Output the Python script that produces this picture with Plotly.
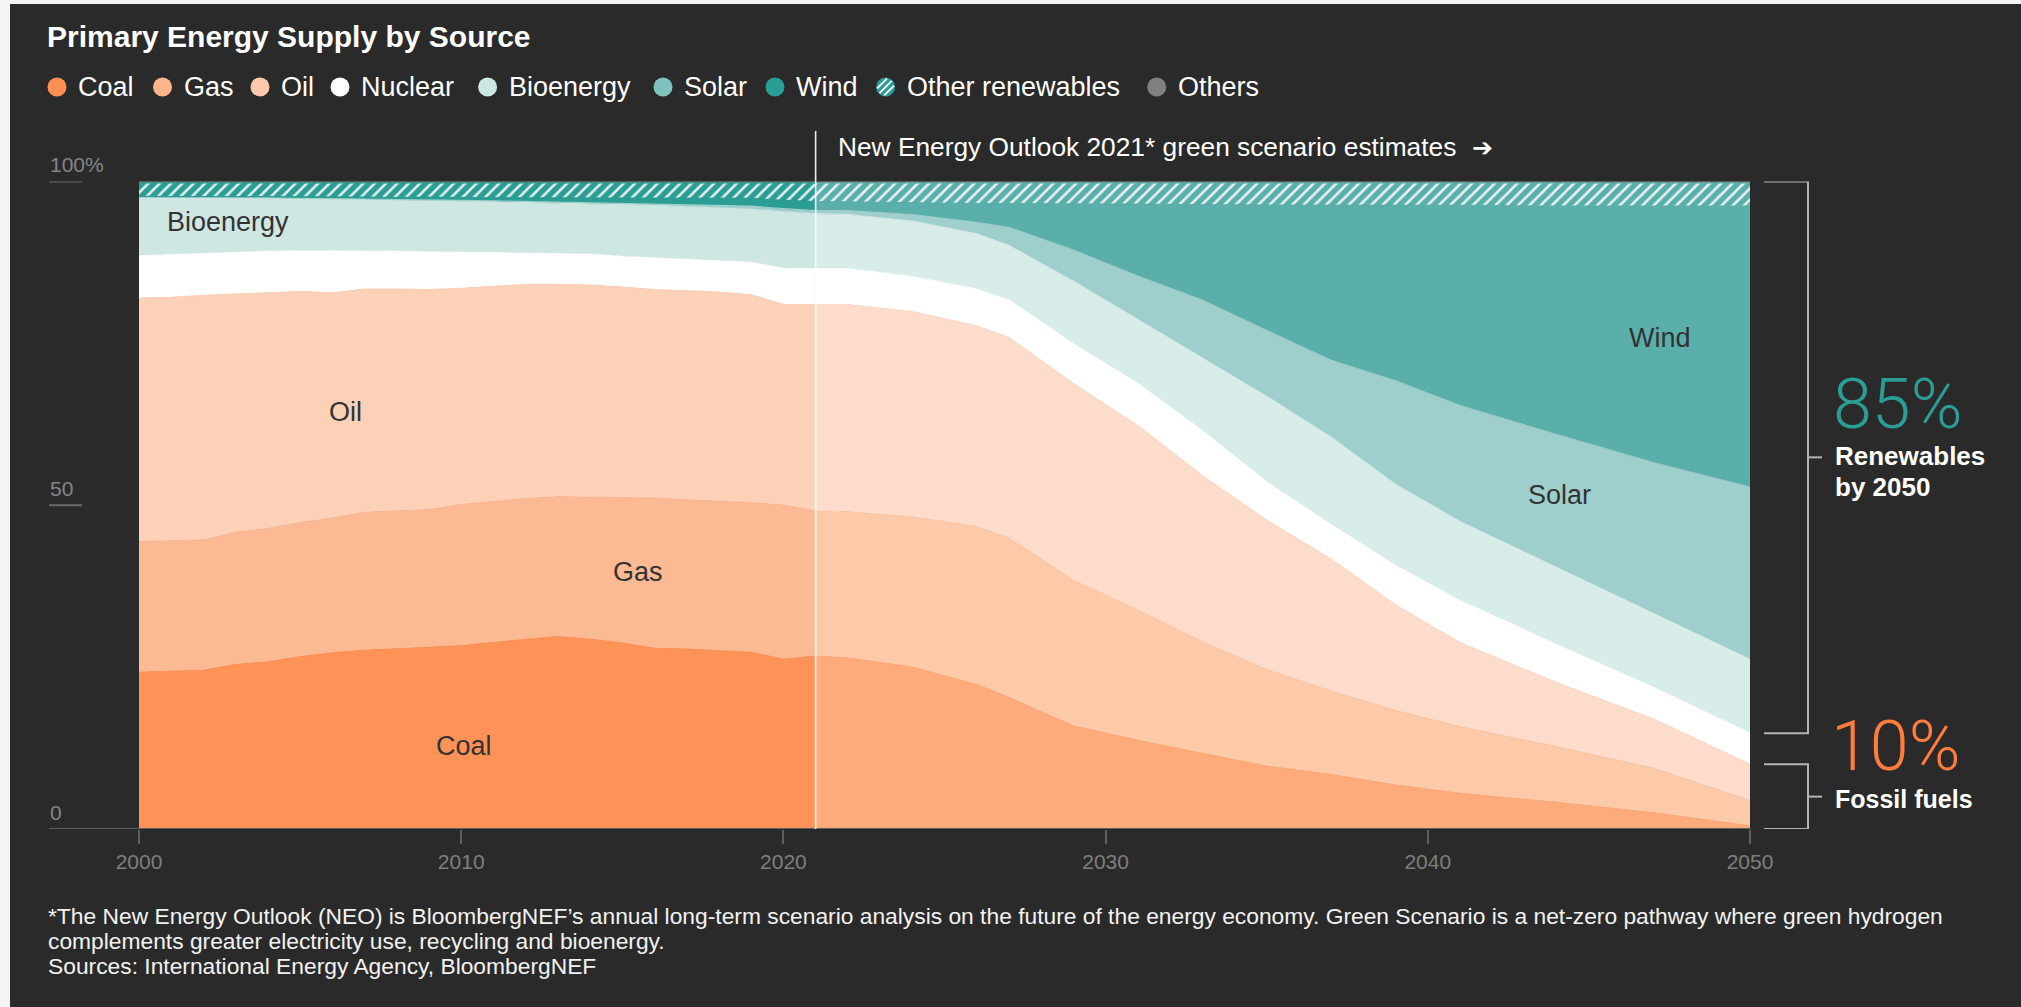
import plotly.graph_objects as go

# ---------------------------------------------------------------- data (share of primary energy, %)
years = [2000, 2001, 2002, 2003, 2004, 2005, 2006, 2007, 2008, 2009, 2010,
         2011, 2012, 2013, 2014, 2015, 2016, 2017, 2018, 2019, 2020, 2021,
         2022, 2024, 2026, 2027, 2029, 2031, 2033, 2035, 2037, 2039, 2041,
         2044, 2047, 2050]

coal = [24.2, 24.3, 24.5, 25.4, 25.8, 26.6, 27.2, 27.6, 27.8, 28.0, 28.3,
        28.8, 29.3, 29.7, 29.3, 28.7, 27.9, 27.8, 27.5, 27.3, 26.2, 26.7,
        26.4, 25.0, 22.3, 20.3, 15.9, 13.7, 11.7, 9.7, 8.4, 6.8, 5.5,
        4.1, 2.5, 0.5]
gas = [20.2, 20.2, 20.1, 20.4, 20.6, 20.7, 20.8, 21.3, 21.3, 21.3, 21.8,
       21.8, 21.7, 21.6, 21.9, 22.5, 23.2, 23.0, 23.1, 23.1, 23.8, 22.4,
       22.6, 23.2, 24.4, 24.6, 22.5, 20.1, 17.2, 14.9, 12.9, 11.5, 10.3,
       8.6, 6.9, 3.9]
oil = [37.6, 37.6, 37.8, 36.8, 36.3, 35.7, 34.8, 34.5, 34.3, 34.0, 33.4,
       33.2, 33.1, 32.8, 32.8, 32.5, 32.2, 32.3, 32.3, 32.1, 31.0, 31.9,
       32.0, 31.7, 31.0, 31.0, 30.4, 28.5, 25.7, 23.1, 20.4, 16.3, 13.0,
       9.9, 7.6, 5.6]
nuclear = [6.5, 6.6, 6.5, 6.4, 6.5, 6.3, 6.5, 5.9, 5.8, 5.8, 5.6,
           5.2, 4.8, 4.8, 4.8, 4.7, 4.9, 4.9, 4.8, 5.0, 5.6, 5.5,
           5.5, 5.4, 5.7, 5.8, 6.1, 6.5, 6.9, 5.9, 5.3, 6.1, 6.5,
           5.9, 4.9, 4.8]
bioenergy = [9.1, 8.9, 8.7, 8.6, 8.3, 8.1, 8.1, 8.0, 8.0, 8.0, 7.9,
             7.9, 7.9, 7.8, 7.8, 8.1, 8.1, 8.1, 8.2, 8.2, 8.7, 8.5,
             8.4, 8.6, 8.5, 8.4, 9.7, 9.9, 11.3, 13.2, 13.5, 12.5, 12.2,
             11.9, 11.3, 11.4]
solar = [0.0, 0.0, 0.0, 0.0, 0.0, 0.0, 0.0, 0.0, 0.0, 0.1, 0.1,
         0.1, 0.1, 0.1, 0.2, 0.2, 0.3, 0.3, 0.4, 0.5, 0.5, 0.5,
         0.6, 1.0, 1.8, 2.8, 4.8, 6.7, 8.9, 10.2, 11.9, 16.0, 17.9,
         20.5, 23.4, 26.6]
wind = [0.1, 0.1, 0.1, 0.1, 0.2, 0.2, 0.2, 0.3, 0.3, 0.4, 0.4,
        0.5, 0.6, 0.7, 0.7, 0.8, 0.9, 1.0, 1.1, 1.2, 1.3, 1.4,
        1.3, 1.8, 2.9, 3.7, 7.1, 11.1, 14.7, 19.4, 23.9, 27.1, 30.9,
        35.3, 39.6, 43.4]
other_renewables = [2.1, 2.1, 2.1, 2.1, 2.1, 2.2, 2.2, 2.2, 2.3, 2.2, 2.3,
                    2.3, 2.3, 2.3, 2.3, 2.3, 2.3, 2.4, 2.4, 2.4, 2.7, 2.9,
                    3.0, 3.1, 3.2, 3.2, 3.3, 3.3, 3.4, 3.4, 3.5, 3.5, 3.5,
                    3.6, 3.6, 3.6]
others = [0.2, 0.2, 0.2, 0.2, 0.2, 0.2, 0.2, 0.2, 0.2, 0.2, 0.2,
          0.2, 0.2, 0.2, 0.2, 0.2, 0.2, 0.2, 0.2, 0.2, 0.2, 0.2,
          0.2, 0.2, 0.2, 0.2, 0.2, 0.2, 0.2, 0.2, 0.2, 0.2, 0.2,
          0.2, 0.2, 0.2]

projection_start = 2021
x_ticks = [2000, 2010, 2020, 2030, 2040, 2050]
y_ticks = [0, 50, 100]
y_tick_text = ["0", "50", "100%"]

sources = ["Coal", "Gas", "Oil", "Nuclear", "Bioenergy", "Solar", "Wind",
           "Other renewables", "Others"]
series = dict(zip(sources, [coal, gas, oil, nuclear, bioenergy, solar, wind,
                            other_renewables, others]))

# ---------------------------------------------------------------- styling
W, H = 2021, 1007
FONT = "Liberation Sans, Arial, Helvetica, sans-serif"
BG = "#2a2a2a"
TEAL = "#2a9d95"
ORANGE = "#ff7b3e"

hist_colors = {"Coal": "#ff9257", "Gas": "#fbb994", "Oil": "#fdd0b8",
               "Nuclear": "#ffffff", "Bioenergy": "#cfe7e3", "Solar": "#9dcfcc",
               "Wind": "#2b9d95", "Other renewables": "#2b9d95", "Others": "#7a7a7a"}
proj_colors = {"Coal": "#fdab7b", "Gas": "#fcc9a9", "Oil": "#fedccb",
               "Nuclear": "#ffffff", "Bioenergy": "#d8ecea", "Solar": "#9fcfcd",
               "Wind": "#5aafaa", "Other renewables": "#5aafaa", "Others": "#7a7a7a"}
legend_colors = {"Coal": "#ff8f52", "Gas": "#fbb48c", "Oil": "#fcc9ad",
                 "Nuclear": "#ffffff", "Bioenergy": "#cde7e2", "Solar": "#7fc2bd",
                 "Wind": TEAL, "Other renewables": TEAL, "Others": "#808080"}

PLOT_L, PLOT_R, PLOT_T, PLOT_B = 139, 1750, 181.5, 829


def fx(p):
    return p / W


def fy(p):
    return 1 - p / H


fig = go.Figure()

# ---------------------------------------------------------------- stacked areas
# each band's edge line uses the band colour so neighbouring fills meet without seams
k = years.index(projection_start)
periods = [("hist", slice(0, k + 1), hist_colors),
           ("proj", slice(k, None), proj_colors)]
for group, sl, colors in periods:
    for name in sources:
        extra = {}
        if name == "Other renewables":
            extra["fillpattern"] = dict(shape="/", bgcolor=colors[name],
                                        fgcolor="#ffffff", fgopacity=0.85,
                                        size=8, solidity=0.32)
        fig.add_trace(go.Scatter(
            x=years[sl], y=series[name][sl], stackgroup=group, mode="lines",
            line=dict(width=1.2, color=colors[name]), fillcolor=colors[name],
            name=name, showlegend=False, hoverinfo="skip", **extra))

shapes = []
annotations = []

# backdrop
shapes.append(dict(type="rect", xref="paper", yref="paper", x0=fx(10), x1=1,
                   y0=0, y1=fy(4), fillcolor=BG, line=dict(width=0), layer="below"))

# baseline and y tick underlines
shapes.append(dict(type="line", xref="paper", yref="y", x0=fx(49), x1=fx(1751),
                   y0=0, y1=0, line=dict(color="#5e5e5e", width=2)))
for v, t in zip(y_ticks, y_tick_text):
    if v != 0:
        shapes.append(dict(type="line", xref="paper", yref="y", x0=fx(49), x1=fx(82),
                           y0=v, y1=v, line=dict(color="#6a6a6a", width=2)))
    annotations.append(dict(text=t, xref="paper", yref="y", x=fx(48), y=v,
                            xanchor="left", yanchor="middle", yshift=17,
                            showarrow=False,
                            font=dict(family=FONT, size=21, color="#858585")))

# projection divider
shapes.append(dict(type="line", xref="x", yref="paper", x0=projection_start,
                   x1=projection_start, y0=fy(PLOT_B), y1=fy(131),
                   line=dict(color="rgba(255,255,255,0.9)", width=1.6)))
annotations.append(dict(text="New Energy Outlook 2021* green scenario estimates",
                        xref="x", yref="paper", x=projection_start, y=fy(147),
                        xanchor="left", yanchor="middle", xshift=20, showarrow=False,
                        font=dict(family=FONT, size=26.3, color="#ffffff")))
annotations.append(dict(text="➔", xref="x", yref="paper", x=projection_start, y=fy(147),
                        xanchor="left", yanchor="middle", xshift=654, showarrow=False,
                        font=dict(family="DejaVu Sans, " + FONT, size=25, color="#ffffff")))

# in-chart labels
area_labels = [("Bioenergy", 2000.8, 93.7, "left"), ("Oil", 2006.4, 64.4, "center"),
               ("Gas", 2015.5, 39.7, "center"), ("Coal", 2010.1, 12.8, "center"),
               ("Wind", 2047.2, 75.8, "center"), ("Solar", 2044.1, 51.6, "center")]
for text, xv, yv, anchor in area_labels:
    annotations.append(dict(text=text, x=xv, y=yv, xref="x", yref="y",
                            xanchor=anchor, yanchor="middle", showarrow=False,
                            font=dict(family=FONT, size=27, color="#333333")))

# 2050 brackets
last = len(years) - 1
fossil_2050 = coal[last] + gas[last] + oil[last]
renew_low = fossil_2050 + nuclear[last]
renew_2050 = bioenergy[last] + solar[last] + wind[last] + other_renewables[last]
renew_high = renew_low + renew_2050 + others[last]

BR_IN, BR_X, BR_TICK = 1764, 1808, 1822
for lo, hi in [(renew_low, renew_high), (0, fossil_2050)]:
    path = (f"M {fx(BR_IN)} {hi} L {fx(BR_X)} {hi} L {fx(BR_X)} {lo} L {fx(BR_IN)} {lo}")
    shapes.append(dict(type="path", xref="paper", yref="y", path=path,
                       line=dict(color="#b4b4b4", width=2)))
    mid = (lo + hi) / 2
    shapes.append(dict(type="line", xref="paper", yref="y", x0=fx(BR_X), x1=fx(BR_TICK),
                       y0=mid, y1=mid, line=dict(color="#b4b4b4", width=2)))

renew_mid = (renew_low + renew_high) / 2
fossil_mid = fossil_2050 / 2
annotations += [
    dict(text=f"{round(renew_2050)}%", x=fx(1831), y=renew_mid, xref="paper", yref="y",
         xanchor="left", yanchor="middle", yshift=53, showarrow=False,
         font=dict(family="Roboto, " + FONT, size=70, color=TEAL, weight=300)),
    dict(text="<b>Renewables</b>", x=fx(1833), y=renew_mid, xref="paper", yref="y",
         xanchor="left", yanchor="middle", yshift=1, showarrow=False,
         font=dict(family=FONT, size=26, color="#ffffff")),
    dict(text="<b>by 2050</b>", x=fx(1833), y=renew_mid, xref="paper", yref="y",
         xanchor="left", yanchor="middle", yshift=-30, showarrow=False,
         font=dict(family=FONT, size=26, color="#ffffff")),
    dict(text=f"{round(fossil_2050)}%", x=fx(1829), y=fossil_mid, xref="paper", yref="y",
         xanchor="left", yanchor="middle", yshift=51, showarrow=False,
         font=dict(family="Roboto, " + FONT, size=70, color=ORANGE, weight=300)),
    dict(text="<b>Fossil fuels</b>", x=fx(1833), y=fossil_mid, xref="paper", yref="y",
         xanchor="left", yanchor="middle", yshift=-2, showarrow=False,
         font=dict(family=FONT, size=25, color="#ffffff")),
]

# title
annotations.append(dict(text="<b>Primary Energy Supply by Source</b>", x=fx(45), y=fy(37),
                        xref="paper", yref="paper", xanchor="left", yanchor="middle",
                        showarrow=False, font=dict(family=FONT, size=30, color="#ffffff")))

# legend row
legend_cx = [57, 162.5, 260, 340, 487.6, 663, 775, 885.6, 1156.7]
LEG_Y, R = 87, 9.5
for name, cx in zip(sources, legend_cx):
    shapes.append(dict(type="circle", xref="paper", yref="paper",
                       xsizemode="pixel", ysizemode="pixel",
                       xanchor=fx(cx), yanchor=fy(LEG_Y),
                       x0=-R, x1=R, y0=-R, y1=R,
                       fillcolor=legend_colors[name], line=dict(width=0)))
    if name == "Other renewables":
        for d in (-5.0, 0.0, 5.0):
            h = (8.6 ** 2 - d ** 2) ** 0.5
            cxo, cyo = d / 2 ** 0.5, -d / 2 ** 0.5
            ux = h / 2 ** 0.5
            shapes.append(dict(type="line", xref="paper", yref="paper",
                               xsizemode="pixel", ysizemode="pixel",
                               xanchor=fx(cx), yanchor=fy(LEG_Y),
                               x0=cxo - ux, x1=cxo + ux, y0=cyo - ux, y1=cyo + ux,
                               line=dict(color="#ffffff", width=1.8)))
    annotations.append(dict(text=name, x=fx(cx + 19), y=fy(LEG_Y), xref="paper",
                            yref="paper", xanchor="left", yanchor="middle",
                            showarrow=False,
                            font=dict(family=FONT, size=27, color="#ffffff")))

# footnote
notes = ["*The New Energy Outlook (NEO) is BloombergNEF’s annual long-term scenario analysis "
         "on the future of the energy economy. Green Scenario is a net-zero pathway where green hydrogen",
         "complements greater electricity use, recycling and bioenergy.",
         "Sources: International Energy Agency, BloombergNEF"]
for i, line in enumerate(notes):
    annotations.append(dict(text=line, x=fx(46), y=fy(916 + 25 * i), xref="paper",
                            yref="paper", xanchor="left", yanchor="middle",
                            showarrow=False,
                            font=dict(family=FONT, size=22.8, color="#f2f2f2")))

fig.update_layout(
    template="none",
    width=W, height=H,
    margin=dict(l=0, r=0, t=0, b=0, pad=0),
    paper_bgcolor="#f4f4f4",
    plot_bgcolor=BG,
    showlegend=False,
    hovermode=False,
    shapes=shapes,
    annotations=annotations,
    xaxis=dict(domain=[fx(PLOT_L), fx(PLOT_R)], range=[2000, 2050],
               tickvals=x_ticks, ticktext=[str(v) for v in x_ticks],
               ticks="outside", ticklen=14, tickwidth=2, tickcolor="#5e5e5e",
               tickfont=dict(family=FONT, size=21, color="#7f7f7f"),
               showgrid=False, zeroline=False, showline=False, automargin=False,
               fixedrange=True),
    yaxis=dict(domain=[fy(PLOT_B), fy(PLOT_T)], range=[0, 100],
               showticklabels=False, ticks="", showgrid=False, zeroline=False,
               showline=False, automargin=False, fixedrange=True),
)

fig.write_html("out.html", config={"displayModeBar": False})
